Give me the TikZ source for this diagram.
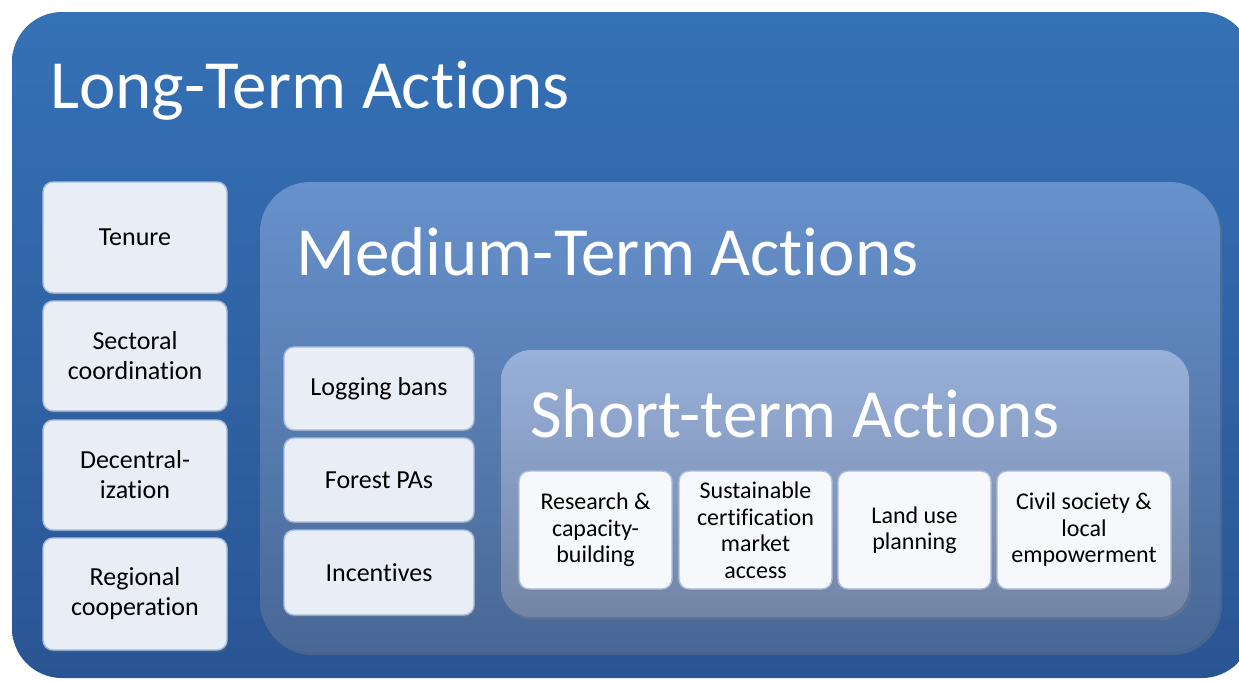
\documentclass[tikz,border=0pt]{standalone}
\usepackage{fontspec}
\setmainfont{Carlito}[Ligatures=NoCommon]
\usetikzlibrary{shadows}

\definecolor{longtop}{HTML}{3571B6}
\definecolor{longbot}{HTML}{2A5595}
\definecolor{medtop}{HTML}{6791CC}
\definecolor{medbot}{HTML}{486896}
\definecolor{shorttop}{HTML}{98B0DA}
\definecolor{shortbot}{HTML}{7385A6}
\definecolor{boxfill}{HTML}{E9EDF5}
\definecolor{boxline}{HTML}{A8BCDE}

\begin{document}
\begin{tikzpicture}[x=1pt, y=-1pt,
  level_box/.style={rounded corners=#1, draw=none, inner sep=0pt},
  item_box/.style={rounded corners=10pt, draw=boxline, line width=1.4pt, fill=boxfill,
    inner sep=2pt, align=center, font=\fontsize{26}{30}\selectfont,
    drop shadow={opacity=0.25, shadow xshift=1pt, shadow yshift=-2pt}},
  short_box/.style={item_box, fill=white!60!boxfill, minimum height=118pt,
    font=\fontsize{24}{26.5}\selectfont},
  title_text/.style={text=white, inner sep=0pt, anchor=base west, font=\fontsize{69}{80}\selectfont}]
	\useasboundingbox (0,0) rectangle (1239,680);
	\clip (0,0) rectangle (1239,680);
	\fill[white] (0,0) rectangle (1239,680);

	% nested levels
	\node[level_box=50pt, top color=longtop, bottom color=longbot,
	  minimum width=1240pt, minimum height=666pt] (long) at (632, 345) {};
	\node[level_box=50pt, top color=medtop, bottom color=medbot,
	  drop shadow={opacity=0.35, shadow xshift=2pt, shadow yshift=-3pt},
	  minimum width=960pt, minimum height=470pt] (medium) at (740, 417) {};
	\node[level_box=30pt, top color=shorttop, bottom color=shortbot,
	  drop shadow={opacity=0.35, shadow xshift=2pt, shadow yshift=-3pt},
	  minimum width=688pt, minimum height=267pt] (short) at (845, 483.5) {};

	\node[title_text] (longtitle) at (50, 108) {Long-Term Actions};
	\node[title_text] (medtitle) at (296, 275) {Medium-Term Actions};
	\node[title_text] (shorttitle) at (530, 437) {Short-term Actions};

	% long-term items
	\node[item_box, minimum width=184pt, minimum height=111pt] (tenure) at (135, 237.5) {Tenure};
	\node[item_box, minimum width=184pt, minimum height=110pt] (sectoral) at (135, 356) {Sectoral\\coordination};
	\node[item_box, minimum width=184pt, minimum height=110pt] (decentral) at (135, 475) {Decentral-\\ization};
	\node[item_box, minimum width=184pt, minimum height=112pt] (regional) at (135, 594) {Regional\\cooperation};

	% medium-term items
	\node[item_box, minimum width=190pt, minimum height=83pt] (logging) at (379, 388.5) {Logging bans};
	\node[item_box, minimum width=190pt, minimum height=84pt] (forestpa) at (379, 480) {Forest PAs};
	\node[item_box, minimum width=190pt, minimum height=85pt] (incentives) at (379, 572.5) {Incentives};

	% short-term items
	\node[short_box, minimum width=153pt] (research) at (595.5, 530) {Research \&\\capacity-\\building};
	\node[short_box, minimum width=153pt] (certif) at (755.5, 530) {Sustainable\\certification\\market\\access};
	\node[short_box, minimum width=153pt] (landuse) at (914.5, 530) {Land use\\planning};
	\node[short_box, minimum width=174pt] (civil) at (1084, 530) {Civil society \&\\local\\empowerment};
\end{tikzpicture}
\end{document}
